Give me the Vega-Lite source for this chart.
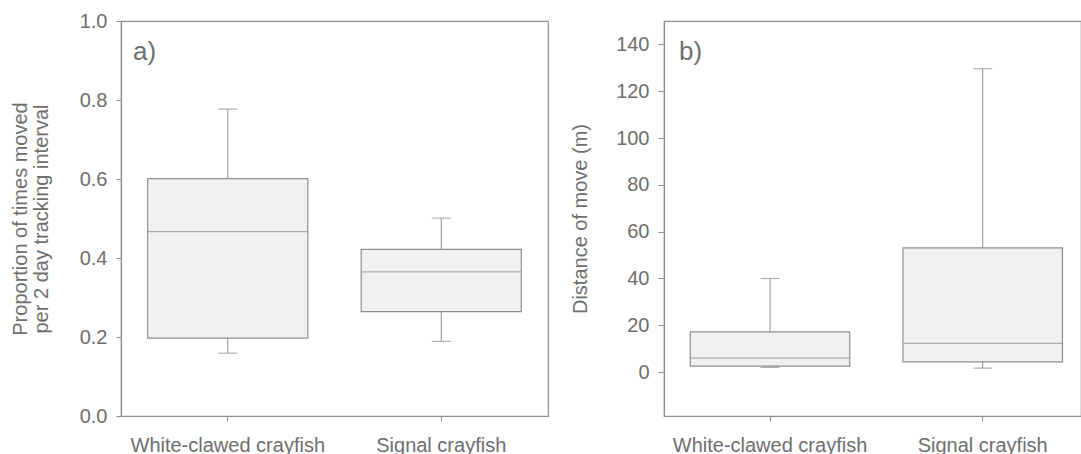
{
  "$schema": "https://vega.github.io/schema/vega-lite/v6.json",
  "background": "#ffffff",
  "padding": {"left": 9, "top": 10, "right": 0, "bottom": 0},
  "bounds": "flush",
  "spacing": 116,
  "config": {
    "font": "Liberation Sans",
    "view": {"stroke": "#8f8f8f", "strokeWidth": 1.2},
    "axis": {
      "grid": false,
      "domainColor": "#8f8f8f",
      "domainWidth": 1.2,
      "tickColor": "#8f8f8f",
      "tickSize": 5,
      "labelColor": "#6e6e6e",
      "titleColor": "#6e6e6e",
      "labelFont": "Liberation Sans",
      "titleFont": "Liberation Sans",
      "labelFontSize": 20,
      "titleFontSize": 20,
      "titleFontWeight": "normal",
      "labelLimit": 400
    },
    "title": {"font": "Liberation Sans", "fontSize": 26, "fontWeight": "normal", "color": "#6e6e6e", "anchor": "start", "frame": "group"}
  },
  "datasets": {
    "prop": [
      {"species": "White-clawed crayfish", "lower": 0.159, "q1": 0.197, "median": 0.467, "q3": 0.601, "upper": 0.777},
      {"species": "Signal crayfish", "lower": 0.189, "q1": 0.264, "median": 0.365, "q3": 0.422, "upper": 0.501}
    ],
    "dist": [
      {"species": "White-clawed crayfish", "lower": 2.0, "q1": 2.6, "median": 6.0, "q3": 17.2, "upper": 40.0},
      {"species": "Signal crayfish", "lower": 1.7, "q1": 4.4, "median": 12.3, "q3": 53.1, "upper": 129.6}
    ]
  },
  "hconcat": [
    {
      "width": 427,
      "height": 395,
      "title": {"text": "a)", "offset": -54, "dx": 12},
      "data": {"name": "prop"},
      "encoding": {
        "x": {
          "field": "species", "type": "nominal", "sort": null,
          "scale": {"paddingInner": 0.25, "paddingOuter": 0.125},
          "axis": {"title": null, "labelAngle": 0, "labelPadding": 14}
        }
      },
      "layer": [
        {
          "mark": {"type": "rule", "color": "#8f8f8f", "strokeWidth": 1},
          "encoding": {
            "y": {"field": "lower", "type": "quantitative",
              "scale": {"domain": [0, 1], "nice": false, "zero": false},
              "axis": {"values": [0, 0.2, 0.4, 0.6, 0.8, 1.0], "format": ".1f", "labelPadding": 9,
                "title": ["Proportion of times moved", "per 2 day tracking interval"], "titleLineHeight": 21, "titlePadding": 28}},
            "y2": {"field": "upper"}
          }
        },
        {
          "mark": {"type": "bar", "fill": "#f1f1f1", "stroke": "#8f8f8f", "strokeWidth": 1.2},
          "encoding": {
            "y": {"field": "q1", "type": "quantitative"},
            "y2": {"field": "q3"}
          }
        },
        {
          "mark": {"type": "tick", "color": "#8f8f8f", "thickness": 1.2, "size": 160, "orient": "horizontal"},
          "encoding": {"y": {"field": "median", "type": "quantitative"}}
        },
        {
          "mark": {"type": "tick", "color": "#8f8f8f", "thickness": 1.2, "size": 19, "orient": "horizontal"},
          "encoding": {"y": {"field": "upper", "type": "quantitative"}}
        },
        {
          "mark": {"type": "tick", "color": "#8f8f8f", "thickness": 1.2, "size": 19, "orient": "horizontal"},
          "encoding": {"y": {"field": "lower", "type": "quantitative"}}
        }
      ]
    },
    {
      "width": 417,
      "height": 395,
      "title": {"text": "b)", "offset": -44, "dx": 15},
      "data": {"name": "dist"},
      "encoding": {
        "x": {
          "field": "species", "type": "nominal", "sort": null,
          "scale": {"paddingInner": 0.25, "paddingOuter": 0.1053, "align": 0.586},
          "axis": {"title": null, "labelAngle": 0, "labelPadding": 14}
        }
      },
      "layer": [
        {
          "mark": {"type": "rule", "color": "#8f8f8f", "strokeWidth": 1},
          "encoding": {
            "y": {"field": "lower", "type": "quantitative",
              "scale": {"domain": [-18.75, 150], "nice": false, "zero": false},
              "axis": {"values": [0, 20, 40, 60, 80, 100, 120, 140], "tickSize": 6, "labelPadding": 9,
                "title": "Distance of move (m)", "titlePadding": 25}},
            "y2": {"field": "upper"}
          }
        },
        {
          "mark": {"type": "bar", "fill": "#f1f1f1", "stroke": "#8f8f8f", "strokeWidth": 1.2},
          "encoding": {
            "y": {"field": "q1", "type": "quantitative"},
            "y2": {"field": "q3"}
          }
        },
        {
          "mark": {"type": "tick", "color": "#8f8f8f", "thickness": 1.2, "size": 159, "orient": "horizontal"},
          "encoding": {"y": {"field": "median", "type": "quantitative"}}
        },
        {
          "mark": {"type": "tick", "color": "#8f8f8f", "thickness": 1.2, "size": 19, "orient": "horizontal"},
          "encoding": {"y": {"field": "upper", "type": "quantitative"}}
        },
        {
          "mark": {"type": "tick", "color": "#8f8f8f", "thickness": 1.2, "size": 19, "orient": "horizontal"},
          "encoding": {"y": {"field": "lower", "type": "quantitative"}}
        }
      ]
    }
  ]
}
